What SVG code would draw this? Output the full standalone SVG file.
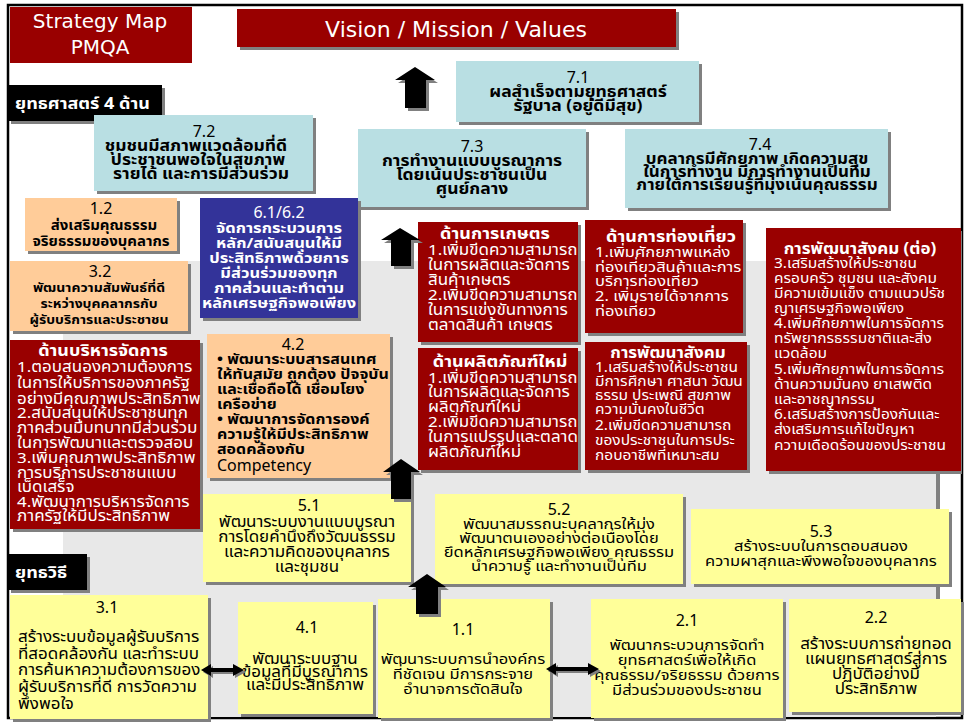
<svg xmlns="http://www.w3.org/2000/svg" width="969" height="723" viewBox="0 0 969 723" style="font-size:17px">
<style>
text{font-family:Tahoma,"Noto Sans Thai","Noto Sans","DejaVu Sans",sans-serif;transform-box:fill-box;transform-origin:50% 72%;transform:scaleY(0.9)}
.c{text-anchor:middle}
.b{font-weight:bold}
.w{fill:#fff}
.n{font-size:16px;font-family:"Noto Sans","DejaVu Sans",sans-serif;font-weight:normal;transform:none}
.L{font-family:"DejaVu Sans",sans-serif;transform:none}
.red{fill:#990000}
.lb{fill:#b9dfe3}
.pe{fill:#ffcc99}
.ye{fill:#ffff99}
.nv{fill:#333399}
.sh{fill:#808080}
.bk{fill:#000}
</style>
<rect x="0" y="0" width="969" height="723" fill="#fff"/>
<rect x="8" y="5" width="954" height="713" fill="none" stroke="#000" stroke-width="2.5"/>
<g id="background">
<rect x="936" y="264" width="4" height="336" class="sh"/>
<rect x="63" y="261" width="873" height="456" fill="#e8e8e8"/>
</g>
<g id="title">
<rect x="10" y="7" width="182" height="56" class="red"/>
<text x="100" y="28" class="c w L" style="font-size:20px">Strategy Map</text>
<text x="100" y="54" class="c w L" style="font-size:20px">PMQA</text>
</g>
<g id="vision">
<rect x="240" y="12" width="439" height="38" class="sh"/>
<rect x="237" y="9" width="439" height="38" class="red"/>
<text x="456" y="37" class="c w L" style="font-size:22px">Vision / Mission / Values</text>
</g>
<g id="label-strategy">
<rect x="11" y="88" width="154" height="36" class="sh"/>
<rect x="8" y="85" width="154" height="36" class="bk"/>
<text x="15" y="109" class="w b" style="font-size:18px">ยุทธศาสตร์ 4 ด้าน</text>
</g>
<g id="n7-1" style="font-size:17.5px">
<rect x="459" y="64" width="243" height="61" class="sh"/>
<rect x="456" y="61" width="243" height="61" class="lb"/>
<text x="578" y="83" class="c n">7.1</text>
<text x="578" y="97" class="c b">ผลสำเร็จตามยุทธศาสตร์</text>
<text x="578" y="111" class="c b">รัฐบาล (อยู่ดีมีสุข)</text>
</g>
<g id="n7-2" style="font-size:17.5px">
<rect x="97" y="118" width="219" height="76" class="sh"/>
<rect x="94" y="115" width="219" height="76" class="lb"/>
<text x="204" y="137" class="c n">7.2</text>
<text x="196" y="151" class="c b">ชุมชนมีสภาพแวดล้อมที่ดี</text>
<text x="198" y="165" class="c b">ประชาชนพอใจในสุขภาพ</text>
<text x="201" y="179" class="c b">รายได้ และการมีส่วนร่วม</text>
</g>
<g id="n7-3" style="font-size:17.5px">
<rect x="361" y="132" width="228" height="78" class="sh"/>
<rect x="358" y="129" width="228" height="78" class="lb"/>
<text x="472" y="152" class="c n">7.3</text>
<text x="472" y="166" class="c b">การทำงานแบบบูรณาการ</text>
<text x="472" y="180" class="c b">โดยเน้นประชาชนเป็น</text>
<text x="472" y="194" class="c b">ศูนย์กลาง</text>
</g>
<g id="n7-4" style="font-size:17px">
<rect x="628" y="132" width="263" height="79" class="sh"/>
<rect x="625" y="129" width="263" height="79" class="lb"/>
<text x="760" y="150" class="c n">7.4</text>
<text x="757" y="164" class="c b">บุคลากรมีศักยภาพ เกิดความสุข</text>
<text x="757" y="177" class="c b">ในการทำงาน มีการทำงานเป็นทีม</text>
<text x="757" y="190" class="c b">ภายใต้การเรียนรู้ที่มุ่งเน้นคุณธรรม</text>
</g>
<g id="n1-2" style="font-size:15px">
<rect x="28" y="201" width="152" height="53" class="sh"/>
<rect x="25" y="198" width="152" height="53" class="pe"/>
<text x="101" y="214" class="c n">1.2</text>
<text x="104" y="230" class="c b">ส่งเสริมคุณธรรม</text>
<text x="101" y="246" class="c b">จริยธรรมของบุคลากร</text>
</g>
<g id="n3-2" style="font-size:14px">
<rect x="13" y="264" width="178" height="70" class="sh"/>
<rect x="10" y="261" width="178" height="70" class="pe"/>
<text x="100" y="277" class="c n">3.2</text>
<text x="99" y="292" class="c b">พัฒนาความสัมพันธ์ที่ดี</text>
<text x="99" y="308" class="c b">ระหว่างบุคคลากรกับ</text>
<text x="99" y="324" class="c b">ผู้รับบริการและประชาชน</text>
</g>
<g id="n6" style="font-size:16.5px">
<rect x="203" y="201" width="158" height="120" class="sh"/>
<rect x="200" y="198" width="158" height="120" class="nv"/>
<text x="279" y="218" class="c w n">6.1/6.2</text>
<text x="279" y="233" class="c w b">จัดการกระบวนการ</text>
<text x="279" y="248" class="c w b">หลัก/สนับสนุนให้มี</text>
<text x="279" y="263" class="c w b">ประสิทธิภาพด้วยการ</text>
<text x="279" y="278" class="c w b">มีส่วนร่วมของทุก</text>
<text x="279" y="293" class="c w b">ภาคส่วนและทำตาม</text>
<text x="279" y="308" class="c w b">หลักเศรษฐกิจพอเพียง</text>
</g>
<g id="agri">
<rect x="421" y="225" width="160" height="120" class="sh"/>
<rect x="418" y="222" width="160" height="120" class="red"/>
<text x="495" y="239" class="c w b" style="font-size:18px">ด้านการเกษตร</text>
<text x="428" y="255" class="w">1.เพิ่มขีดความสามารถ</text>
<text x="428" y="270" class="w">ในการผลิตและจัดการ</text>
<text x="428" y="285" class="w">สินค้าเกษตร</text>
<text x="428" y="300" class="w">2.เพิ่มขีดความสามารถ</text>
<text x="428" y="315" class="w">ในการแข่งขันทางการ</text>
<text x="428" y="330" class="w">ตลาดสินค้า เกษตร</text>
</g>
<g id="tourism" style="font-size:16.5px">
<rect x="588" y="223" width="158" height="113" class="sh"/>
<rect x="585" y="220" width="158" height="113" class="red"/>
<text x="671" y="242" class="c w b" style="font-size:18px">ด้านการท่องเที่ยว</text>
<text x="595" y="257" class="w">1.เพิ่มศักยภาพแหล่ง</text>
<text x="595" y="272" class="w">ท่องเที่ยวสินค้าและการ</text>
<text x="595" y="286" class="w">บริการท่องเที่ยว</text>
<text x="595" y="301" class="w">2. เพิ่มรายได้จากการ</text>
<text x="595" y="316" class="w">ท่องเที่ยว</text>
</g>
<g id="social2" style="font-size:15.5px">
<rect x="769" y="231" width="193" height="243" class="sh"/>
<rect x="766" y="228" width="195" height="243" class="red"/>
<text x="860" y="254" class="c w b" style="font-size:17px">การพัฒนาสังคม (ต่อ)</text>
<text x="774" y="268" class="w">3.เสริมสร้างให้ประชาชน</text>
<text x="774" y="283" class="w">ครอบครัว ชุมชน และสังคม</text>
<text x="774" y="298" class="w">มีความเข้มแข็ง ตามแนวปรัช</text>
<text x="774" y="313" class="w">ญาเศรษฐกิจพอเพียง</text>
<text x="774" y="328" class="w">4.เพิ่มศักยภาพในการจัดการ</text>
<text x="774" y="343" class="w">ทรัพยากรธรรมชาติและสิ่ง</text>
<text x="774" y="358" class="w">แวดล้อม</text>
<text x="774" y="374" class="w">5.เพิ่มศักยภาพในการจัดการ</text>
<text x="774" y="389" class="w">ด้านความมั่นคง ยาเสพติด</text>
<text x="774" y="404" class="w">และอาชญากรรม</text>
<text x="774" y="419" class="w">6.เสริมสร้างการป้องกันและ</text>
<text x="774" y="434" class="w">ส่งเสริมการแก้ไขปัญหา</text>
<text x="774" y="450" class="w">ความเดือดร้อนของประชาชน</text>
</g>
<g id="admin">
<rect x="13" y="343" width="190" height="189" class="sh"/>
<rect x="10" y="340" width="190" height="189" class="red"/>
<text x="103" y="356" class="c w b" style="font-size:18px">ด้านบริหารจัดการ</text>
<text x="17" y="372" class="w">1.ตอบสนองความต้องการ</text>
<text x="17" y="388" class="w">ในการให้บริการของภาครัฐ</text>
<text x="17" y="404" class="w">อย่างมีคุณภาพประสิทธิภาพ</text>
<text x="17" y="418" class="w">2.สนับสนุนให้ประชาชนทุก</text>
<text x="17" y="433" class="w">ภาคส่วนมีบทบาทมีส่วนร่วม</text>
<text x="17" y="448" class="w">ในการพัฒนาและตรวจสอบ</text>
<text x="17" y="463" class="w">3.เพิ่มคุณภาพประสิทธิภาพ</text>
<text x="17" y="478" class="w">การบริการประชาชนแบบ</text>
<text x="17" y="492" class="w">เบ็ดเสร็จ</text>
<text x="17" y="507" class="w">4.พัฒนาการบริหารจัดการ</text>
<text x="17" y="521" class="w">ภาครัฐให้มีประสิทธิภาพ</text>
</g>
<g id="n4-2" style="font-size:16px">
<rect x="210" y="337" width="183" height="144" class="sh"/>
<rect x="207" y="334" width="183" height="144" class="pe"/>
<text x="293" y="350" class="c n">4.2</text>
<text x="217" y="364" class="b">• พัฒนาระบบสารสนเทศ</text>
<text x="217" y="379" class="b">ให้ทันสมัย ถูกต้อง ปัจจุบัน</text>
<text x="217" y="394" class="b">และเชื่อถือได้ เชื่อมโยง</text>
<text x="217" y="409" class="b">เครือข่าย</text>
<text x="217" y="424" class="b">• พัฒนาการจัดการองค์</text>
<text x="217" y="439" class="b">ความรู้ให้มีประสิทธิภาพ</text>
<text x="217" y="454" class="b">สอดคล้องกับ</text>
<text x="217" y="471" class="n">Competency</text>
</g>
<g id="newprod">
<rect x="421" y="351" width="160" height="122" class="sh"/>
<rect x="418" y="348" width="160" height="122" class="red"/>
<text x="500" y="367" class="c w b" style="font-size:18px">ด้านผลิตภัณฑ์ใหม่</text>
<text x="428" y="383" class="w">1.เพิ่มขีดความสามารถ</text>
<text x="428" y="397" class="w">ในการผลิตและจัดการ</text>
<text x="428" y="412" class="w">ผลิตภัณฑ์ใหม่</text>
<text x="428" y="427" class="w">2.เพิ่มขีดความสามารถ</text>
<text x="428" y="442" class="w">ในการแปรรูปและตลาด</text>
<text x="428" y="457" class="w">ผลิตภัณฑ์ใหม่</text>
</g>
<g id="social1" style="font-size:15.5px">
<rect x="588" y="345" width="162" height="128" class="sh"/>
<rect x="585" y="342" width="162" height="128" class="red"/>
<text x="668" y="358" class="c w b" style="font-size:17px">การพัฒนาสังคม</text>
<text x="595" y="372" class="w">1.เสริมสร้างให้ประชาชน</text>
<text x="595" y="386" class="w">มีการศึกษา ศาสนา วัฒน</text>
<text x="595" y="400" class="w">ธรรม ประเพณี สุขภาพ</text>
<text x="595" y="414" class="w">ความมั่นคงในชีวิต</text>
<text x="595" y="430" class="w">2.เพิ่มขีดความสามารถ</text>
<text x="595" y="445" class="w">ของประชาชนในการประ</text>
<text x="595" y="460" class="w">กอบอาชีพที่เหมาะสม</text>
</g>
<g id="n5-1">
<rect x="206" y="497" width="208" height="88" class="sh"/>
<rect x="203" y="494" width="208" height="88" class="ye"/>
<text x="309" y="511" class="c n">5.1</text>
<text x="307" y="527" class="c">พัฒนาระบบงานแบบบูรณา</text>
<text x="307" y="542" class="c">การโดยคำนึงถึงวัฒนธรรม</text>
<text x="307" y="557" class="c">และความคิดของบุคลากร</text>
<text x="307" y="572" class="c">และชุมชน</text>
</g>
<g id="n5-2" style="font-size:16.5px">
<rect x="438" y="497" width="248" height="90" class="sh"/>
<rect x="435" y="494" width="248" height="90" class="ye"/>
<text x="559" y="515" class="c n">5.2</text>
<text x="559" y="529" class="c">พัฒนาสมรรถนะบุคลากรให้มุ่ง</text>
<text x="559" y="543" class="c">พัฒนาตนเองอย่างต่อเนื่องโดย</text>
<text x="559" y="557" class="c">ยึดหลักเศรษฐกิจพอเพียง คุณธรรม</text>
<text x="559" y="571" class="c">นำความรู้ และทำงานเป็นทีม</text>
</g>
<g id="n5-3" style="font-size:16.5px">
<rect x="694" y="512" width="258" height="75" class="sh"/>
<rect x="691" y="509" width="258" height="75" class="ye"/>
<text x="821" y="537" class="c n">5.3</text>
<text x="821" y="551" class="c">สร้างระบบในการตอบสนอง</text>
<text x="821" y="566" class="c">ความผาสุกและพึงพอใจของบุคลากร</text>
</g>
<g id="label-tactic">
<rect x="11" y="557" width="79" height="36" class="sh"/>
<rect x="8" y="554" width="79" height="36" class="bk"/>
<text x="15" y="578" class="w b" style="font-size:18px">ยุทธวิธี</text>
</g>
<g id="n3-1">
<rect x="13" y="598" width="198" height="124" class="sh"/>
<rect x="10" y="595" width="198" height="124" class="ye"/>
<text x="107" y="613" class="c n">3.1</text>
<text x="18" y="642">สร้างระบบข้อมูลผู้รับบริการ</text>
<text x="18" y="659">ที่สอดคล้องกัน และทำระบบ</text>
<text x="18" y="675">การค้นหาความต้องการของ</text>
<text x="18" y="692">ผู้รับบริการที่ดี การวัดความ</text>
<text x="18" y="709">พึงพอใจ</text>
</g>
<g id="n4-1">
<rect x="241" y="605" width="135" height="112" class="sh"/>
<rect x="238" y="602" width="135" height="112" class="ye"/>
<text x="307" y="633" class="c n">4.1</text>
<text x="305" y="664" class="c">พัฒนาระบบฐาน</text>
<text x="305" y="677" class="c">ข้อมูลที่มีบูรณาการ</text>
<text x="305" y="690" class="c">และมีประสิทธิภาพ</text>
</g>
<g id="n1-1" style="font-size:16.5px">
<rect x="381" y="602" width="172" height="119" class="sh"/>
<rect x="378" y="599" width="172" height="119" class="ye"/>
<text x="463" y="635" class="c n">1.1</text>
<text x="463" y="664" class="c">พัฒนาระบบการนำองค์กร</text>
<text x="463" y="679" class="c">ที่ชัดเจน มีการกระจาย</text>
<text x="463" y="694" class="c">อำนาจการตัดสินใจ</text>
</g>
<g id="n2-1" style="font-size:16.5px">
<rect x="594" y="602" width="192" height="119" class="sh"/>
<rect x="591" y="599" width="192" height="119" class="ye"/>
<text x="687" y="626" class="c n">2.1</text>
<text x="687" y="650" class="c">พัฒนากระบวนการจัดทำ</text>
<text x="687" y="665" class="c">ยุทธศาสตร์เพื่อให้เกิด</text>
<text x="687" y="680" class="c">คุณธรรม/จริยธรรม ด้วยการ</text>
<text x="687" y="695" class="c">มีส่วนร่วมของประชาชน</text>
</g>
<g id="n2-2">
<rect x="792" y="602" width="172" height="113" class="sh"/>
<rect x="789" y="599" width="172" height="113" class="ye"/>
<text x="876" y="623" class="c n">2.2</text>
<text x="876" y="649" class="c">สร้างระบบการถ่ายทอด</text>
<text x="876" y="664" class="c">แผนยุทธศาสตร์สู่การ</text>
<text x="876" y="679" class="c">ปฏิบัติอย่างมี</text>
<text x="876" y="694" class="c">ประสิทธิภาพ</text>
</g>
<g id="connectors">
<path d="M418 70 L438 83 L429 83 L429 111 L408 111 L408 83 L398 83 Z" class="sh"/>
<path d="M415 67 L435 80 L426 80 L426 108 L405 108 L405 80 L395 80 Z" class="bk"/>
<path d="M403 231 L423 243 L414 243 L414 269 L394 269 L394 243 L384 243 Z" class="sh"/>
<path d="M400 228 L420 240 L411 240 L411 266 L391 266 L391 240 L381 240 Z" class="bk"/>
<path d="M404 462 L423 475 L414 475 L414 502 L394 502 L394 475 L386 475 Z" class="sh"/>
<path d="M401 459 L420 472 L411 472 L411 499 L391 499 L391 472 L383 472 Z" class="bk"/>
<path d="M430 577 L449 590 L441 590 L441 617 L419 617 L419 590 L411 590 Z" class="sh"/>
<path d="M427 574 L446 587 L438 587 L438 614 L416 614 L416 587 L408 587 Z" class="bk"/>
<path d="M203 672 L213 666 L213 670 L235 670 L235 666 L246 672 L235 678 L235 674 L213 674 L213 678 Z" class="sh"/>
<path d="M201 670 L211 664 L211 668 L233 668 L233 664 L244 670 L233 676 L233 672 L211 672 L211 676 Z" class="bk"/>
<path d="M548 671 L558 665 L558 669 L590 669 L590 665 L601 671 L590 677 L590 673 L558 673 L558 677 Z" class="sh"/>
<path d="M546 669 L556 663 L556 667 L588 667 L588 663 L599 669 L588 675 L588 671 L556 671 L556 675 Z" class="bk"/>
</g>
</svg>
